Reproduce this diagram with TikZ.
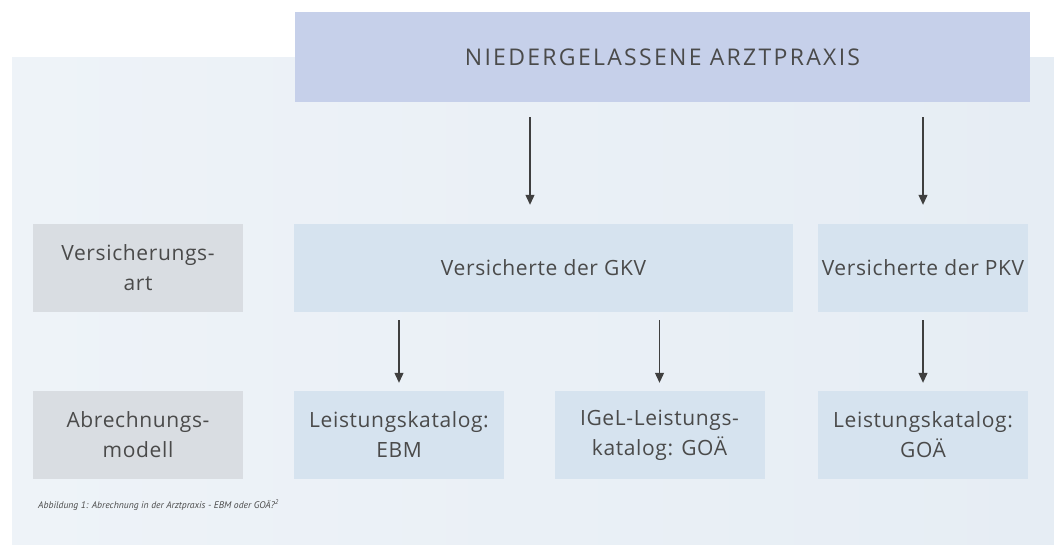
\documentclass[tikz,border=0pt]{standalone}
\usepackage{fontspec}
\setmainfont{Open Sans}
\newfontfamily\capfont{PT Sans}
\newfontfamily\boxfont[LetterSpace=3]{Open Sans}
\newfontfamily\headfont[LetterSpace=10]{Open Sans}
\usetikzlibrary{arrows.meta}

\definecolor{panelbg}{HTML}{EEF3F8}
\definecolor{panelbgdark}{HTML}{E6EDF4}
\definecolor{headfill}{HTML}{C6D0EA}
\definecolor{boxfill}{HTML}{D6E3EF}
\definecolor{sidefill}{HTML}{D9DDE2}
\definecolor{inktext}{HTML}{4A4A4A}
\definecolor{inkarrow}{HTML}{3F3F3F}

\tikzset{
  box/.style={draw=none, inner sep=0pt, align=center, text=inktext,
    font=\boxfont\fontsize{21}{30}\selectfont, minimum height=88pt},
  headbox/.style={box, fill=headfill, minimum width=735pt, minimum height=90pt,
    font=\headfont\fontsize{23}{29}\selectfont},
  bluebox/.style={box, fill=boxfill},
  sidebox/.style={box, fill=sidefill, minimum width=210pt},
  smallbox/.style={bluebox, minimum width=210pt},
  flow/.style={draw=inkarrow, line width=1.1pt,
    -{Triangle[width=9pt,length=10pt]}}
}

\begin{document}
\begin{tikzpicture}[x=1pt,y=-1pt]
  \useasboundingbox (0,0) rectangle (1054,544);

  % soft backdrop panel
  \fill[left color=panelbg, right color=panelbgdark] (12,57) rectangle (1054,544);

  % header
  \node[headbox] (top) at (662.5,57) {NIEDERGELASSENE ARZTPRAXIS};

  % row 1: type of insurance
  \node[sidebox] (vart) at (138,268) {Versicherungs-\\art};
  \node[bluebox, minimum width=499pt] (gkv) at (543.5,268) {Versicherte der GKV};
  \node[smallbox] (pkv) at (923,268) {Versicherte der PKV};

  % row 2: billing model
  \node[sidebox] (abr) at (138,435) {Abrechnungs-\\modell};
  \node[smallbox] (ebm) at (399,435) {Leistungskatalog:\\EBM};
  \node[smallbox] (igel) at (659.5,435) {IGeL-Leistungs-\\katalog: GOÄ};
  \node[smallbox] (goae) at (923,435) {Leistungskatalog:\\GOÄ};

  % connectors
  \coordinate (gkvdrop) at (530,0);
  \draw[flow, shorten <=15pt, shorten >=19pt] (top.south -| gkvdrop) -- (gkv.north -| gkvdrop);
  \draw[flow, shorten <=15pt, shorten >=19pt] (top.south -| pkv) -- (pkv.north);
  \draw[flow, shorten <=8pt, shorten >=8pt] (gkv.south -| ebm) -- (ebm.north);
  \draw[flow, shorten <=8pt, shorten >=8pt] (gkv.south -| igel) -- (igel.north);
  \draw[flow, shorten <=8pt, shorten >=8pt] (pkv.south) -- (goae.north);

  % caption
  \node[anchor=west, inner sep=0pt, text=inktext, font=\capfont\itshape\fontsize{9.6}{12}\selectfont]
    (caption) at (38,505) {Abbildung 1: Abrechnung in der Arztpraxis - EBM oder GOÄ?\textsuperscript{2}};
\end{tikzpicture}
\end{document}
